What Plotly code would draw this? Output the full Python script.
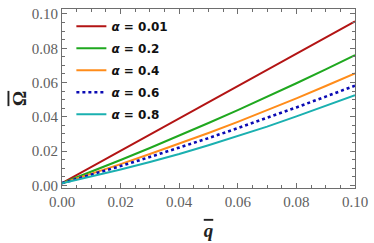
import plotly.graph_objects as go

q_bar = [0.0, 0.01, 0.02, 0.03, 0.04, 0.05, 0.06, 0.07, 0.08, 0.09, 0.10]
omega_001 = [0.0013, 0.0107, 0.0202, 0.0296, 0.0390, 0.0485, 0.0579, 0.0674, 0.0768, 0.0863, 0.0957]
omega_02 = [0.0013, 0.0079, 0.0148, 0.0218, 0.0290, 0.0364, 0.0439, 0.0516, 0.0596, 0.0677, 0.0760]
omega_04 = [0.0013, 0.0067, 0.0124, 0.0183, 0.0243, 0.0306, 0.0371, 0.0438, 0.0508, 0.0580, 0.0654]
omega_06 = [0.0013, 0.0062, 0.0113, 0.0166, 0.0220, 0.0276, 0.0334, 0.0393, 0.0455, 0.0518, 0.0582]
omega_08 = [0.0013, 0.0052, 0.0093, 0.0137, 0.0183, 0.0234, 0.0287, 0.0343, 0.0403, 0.0463, 0.0526]
alpha_labels = ["0.01", "0.2", "0.4", "0.6", "0.8"]
x_ticks = [0.0, 0.02, 0.04, 0.06, 0.08, 0.10]
y_ticks = [0.0, 0.02, 0.04, 0.06, 0.08, 0.10]

series = [omega_001, omega_02, omega_04, omega_06, omega_08]
colors = ["#B31414", "#1FA81F", "#FF8C1A", "#0A0AB4", "#1AB0B0"]
dashes = ["solid", "solid", "solid", "dot", "solid"]
widths = [2, 2, 2, 2.6, 2]

SERIF = "Liberation Serif"

fig = go.Figure()
for i, (vals, lab) in enumerate(zip(series, alpha_labels)):
    fig.add_trace(go.Scatter(
        x=q_bar, y=vals, mode="lines",
        line=dict(color=colors[i], width=widths[i], dash=dashes[i]),
        name=f"<b><i>α</i> = {lab}</b>",
        legendgroup=f"g{i}",
    ))

axis_common = dict(
    showgrid=False, zeroline=False, showline=True, linecolor="#6e6e6e", linewidth=1.2,
    mirror="allticks", ticks="inside", ticklen=5, tickwidth=1, tickcolor="#6e6e6e",
    tickfont=dict(family=SERIF, size=15, color="#606060"),
    tickformat=".2f", ticklabeloverflow="allow",
)

fig.update_xaxes(
    **axis_common, range=[0, 0.1], tickvals=x_ticks,
    minor=dict(dtick=0.005, ticks="inside", ticklen=2.5, tickcolor="#6e6e6e", showgrid=False),
    title=dict(text='<span style="text-decoration:overline"><b><i>q</i></b></span>',
               font=dict(family=SERIF, size=19, color="#222"), standoff=14),
)
fig.update_yaxes(
    **axis_common, range=[-0.0015, 0.1029], tickvals=y_ticks,
    minor=dict(dtick=0.005, ticks="inside", ticklen=2.5, tickcolor="#6e6e6e", showgrid=False),
    title=dict(text='<span style="text-decoration:overline"><b>\u03a9</b></span>',
               font=dict(family=SERIF, size=19, color="#222"), standoff=0),
)

fig.update_layout(
    width=374, height=243,
    margin=dict(l=62, r=16, t=6, b=55),
    paper_bgcolor="white", plot_bgcolor="white",
    font=dict(family=SERIF),
    showlegend=True,
    legend=dict(x=0.032, y=0.985, xanchor="left", yanchor="top", bgcolor="rgba(0,0,0,0)",
                font=dict(family="DejaVu Sans", size=12, color="#111"),
                tracegroupgap=3),
)

fig.write_html("out.html", config={"displayModeBar": False},
               post_script="document.body.style.margin='0';")
